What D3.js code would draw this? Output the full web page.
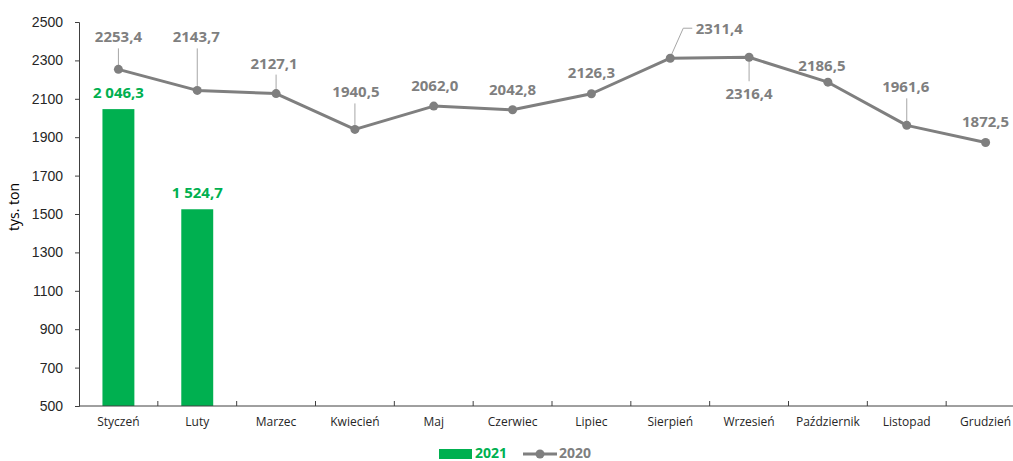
<!DOCTYPE html>
<html>
<head>
<meta charset="utf-8">
<script src="https://cdn.jsdelivr.net/npm/d3@7"></script>
<style>
  body { margin: 0; background: #fff; }
  svg { display: block; font-family: "Open Sans", sans-serif; }
</style>
</head>
<body>
<div id="chart"></div>
<script>
const months = ['Styczeń', 'Luty', 'Marzec', 'Kwiecień', 'Maj', 'Czerwiec', 'Lipiec',
    'Sierpień', 'Wrzesień', 'Październik', 'Listopad', 'Grudzień'];
const values2021 = [2046.3, 1524.7];
const values2020 = [2253.4, 2143.7, 2127.1, 1940.5, 2062.0, 2042.8, 2126.3,
    2311.4, 2316.4, 2186.5, 1961.6, 1872.5];
const yTicks = [500, 700, 900, 1100, 1300, 1500, 1700, 1900, 2100, 2300, 2500];
const seriesNames = ['2021', '2020'];

// label placement for the 2020 points (offset from point, leader kind)
const labelPos = [
    { dx: 0, dy: -32, leader: 'up' },
    { dx: -1, dy: -53, leader: 'up' },
    { dx: -2, dy: -30, leader: 'up' },
    { dx: 1, dy: -37, leader: 'up' },
    { dx: 1, dy: -20 },
    { dx: 0, dy: -20 },
    { dx: 0, dy: -21 },
    { dx: 49, dy: -29, leader: 'elbow' },
    { dx: 0, dy: 37, leader: 'down' },
    { dx: -6, dy: -16 },
    { dx: -1, dy: -38, leader: 'up' },
    { dx: 0, dy: -20 }
];

const width = 1013, height = 461;
const green = '#00B050', gray = '#7F7F7F';

const pl = d3.formatLocale({ decimal: ',', thousands: '\u00a0', grouping: [3], currency: ['', ''] });
const fmtPlain = pl.format('.1f');
const fmtGroup = pl.format(',.1f');

const svg = d3.select('#chart').append('svg')
    .attr('width', width)
    .attr('height', height);

const x = d3.scaleBand()
    .domain(months)
    .range([79, 1025])
    .paddingInner(0)
    .paddingOuter(0);

const xBar = d3.scaleBand()
    .domain(months)
    .range([79, 1025])
    .paddingInner(0.595)
    .paddingOuter(0.2975);

const y = d3.scaleLinear()
    .domain([500, 2500])
    .range([406, 22]);

// y axis
const yAxis = svg.append('g')
    .attr('transform', 'translate(79,0)')
    .call(d3.axisLeft(y).tickValues(yTicks).tickSize(4).tickPadding(12).tickFormat(d3.format('d')));
yAxis.select('.domain').attr('stroke', '#404040');
yAxis.selectAll('.tick line').attr('stroke', '#404040');
yAxis.selectAll('.tick text')
    .attr('fill', '#262626')
    .style('font-size', '14px');

svg.append('text')
    .attr('transform', 'translate(19,207) rotate(-90)')
    .attr('text-anchor', 'middle')
    .style('font-size', '14px')
    .attr('fill', '#000')
    .text('tys. ton');

// bars 2021
svg.append('g').selectAll('rect')
    .data(values2021)
    .join('rect')
    .attr('x', (d, i) => xBar(months[i]))
    .attr('y', d => y(d))
    .attr('width', xBar.bandwidth())
    .attr('height', d => y(500) - y(d))
    .attr('fill', green);

svg.append('g').selectAll('text')
    .data(values2021)
    .join('text')
    .attr('x', (d, i) => xBar(months[i]) + xBar.bandwidth() / 2)
    .attr('y', d => y(d) - 11)
    .attr('text-anchor', 'middle')
    .attr('fill', green)
    .style('font-size', '15px')
    .style('font-weight', 'bold')
    .text(d => fmtGroup(d));

// x axis
const xAxis = svg.append('g')
    .attr('transform', 'translate(0,406)');
xAxis.append('line')
    .attr('x1', 79).attr('x2', width)
    .attr('stroke', '#404040');
xAxis.selectAll('line.tk')
    .data(months.slice(1))
    .join('line')
    .attr('class', 'tk')
    .attr('x1', d => x(d)).attr('x2', d => x(d))
    .attr('y1', 0).attr('y2', -5)
    .attr('stroke', '#404040');
xAxis.selectAll('text')
    .data(months)
    .join('text')
    .attr('x', d => x(d) + x.bandwidth() / 2)
    .attr('y', 20)
    .attr('text-anchor', 'middle')
    .attr('fill', '#262626')
    .style('font-size', '12px')
    .text(d => d);

// line 2020
const cx = i => x(months[i]) + x.bandwidth() / 2;
const line = d3.line()
    .x((d, i) => cx(i))
    .y(d => y(d));

svg.append('path')
    .datum(values2020)
    .attr('fill', 'none')
    .attr('stroke', gray)
    .attr('stroke-width', 3)
    .attr('stroke-linejoin', 'round')
    .attr('d', line);

// leader lines
const leaders = svg.append('g')
    .attr('stroke', '#A6A6A6')
    .attr('stroke-width', 1)
    .attr('fill', 'none');
values2020.forEach((v, i) => {
    const p = labelPos[i];
    const px = cx(i), py = y(v);
    if (p.leader === 'up') {
        leaders.append('line')
            .attr('x1', px).attr('x2', px)
            .attr('y1', py + p.dy + 11).attr('y2', py - 3);
    } else if (p.leader === 'down') {
        leaders.append('line')
            .attr('x1', px).attr('x2', px)
            .attr('y1', py + 3).attr('y2', py + p.dy - 13);
    } else if (p.leader === 'elbow') {
        leaders.append('path')
            .attr('d', `M${px + 1},${py - 3}L${px + 13},${py + p.dy - 1}L${px + 22},${py + p.dy - 1}`);
    }
});

svg.append('g').selectAll('circle')
    .data(values2020)
    .join('circle')
    .attr('cx', (d, i) => cx(i))
    .attr('cy', d => y(d))
    .attr('r', 4.5)
    .attr('fill', gray);

svg.append('g').selectAll('text')
    .data(values2020)
    .join('text')
    .attr('x', (d, i) => cx(i) + labelPos[i].dx)
    .attr('y', (d, i) => y(d) + labelPos[i].dy + 5)
    .attr('text-anchor', 'middle')
    .attr('fill', gray)
    .style('font-size', '15px')
    .style('font-weight', 'bold')
    .text(d => fmtPlain(d));

// legend
const lg = svg.append('g');
lg.append('rect')
    .attr('x', 439).attr('y', 449)
    .attr('width', 33).attr('height', 10)
    .attr('fill', green);
lg.append('text')
    .attr('x', 475).attr('y', 458)
    .attr('fill', green)
    .style('font-size', '14px')
    .style('font-weight', 'bold')
    .text(seriesNames[0]);
lg.append('line')
    .attr('x1', 523).attr('x2', 557)
    .attr('y1', 454).attr('y2', 454)
    .attr('stroke', gray)
    .attr('stroke-width', 3);
lg.append('circle')
    .attr('cx', 540).attr('cy', 454)
    .attr('r', 4.5)
    .attr('fill', gray);
lg.append('text')
    .attr('x', 559).attr('y', 458)
    .attr('fill', gray)
    .style('font-size', '14px')
    .style('font-weight', 'bold')
    .text(seriesNames[1]);
</script>
</body>
</html>
